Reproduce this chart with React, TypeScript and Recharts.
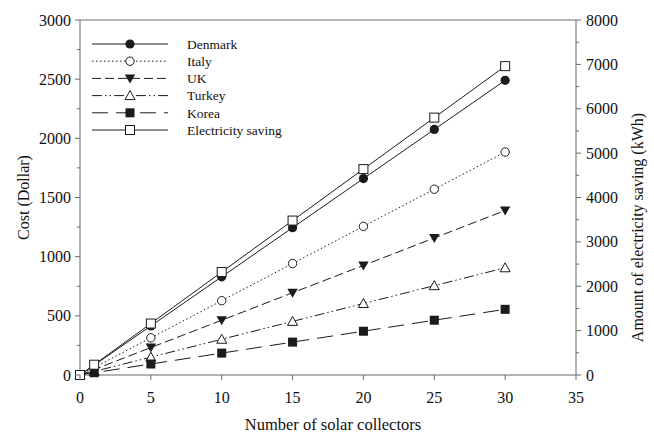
import React from 'react';
import { LineChart, Line, XAxis, YAxis, Legend, ReferenceLine, Label } from 'recharts';

// number of collectors installed
const collectors = [0, 1, 5, 10, 15, 20, 25, 30];

// yearly cost saved per country (Dollar)
const denmarkCost = [0, 83, 415, 830, 1245, 1660, 2075, 2490];
const italyCost = [0, 63, 314, 628, 942, 1256, 1570, 1884];
const ukCost = [0, 46, 232, 463, 695, 926, 1158, 1390];
const turkeyCost = [0, 30, 151, 302, 453, 604, 755, 906];
const koreaCost = [0, 19, 93, 185, 278, 370, 463, 555];

// electricity saved (kWh), right axis
const electricitySaving = [0, 232, 1160, 2320, 3480, 4640, 5800, 6960];

const xTicks = [0, 5, 10, 15, 20, 25, 30, 35];
const costTicks = [0, 250, 500, 750, 1000, 1250, 1500, 1750, 2000, 2250, 2500, 2750, 3000];
const savingTicks = [0, 500, 1000, 1500, 2000, 2500, 3000, 3500, 4000, 4500, 5000, 5500, 6000, 6500, 7000, 7500, 8000];

const data = collectors.map((n, i) => ({
  n,
  denmark: denmarkCost[i],
  italy: italyCost[i],
  uk: ukCost[i],
  turkey: turkeyCost[i],
  korea: koreaCost[i],
  saving: electricitySaving[i],
}));

const FONT = '"Liberation Serif", "Times New Roman", serif';
const INK = '#1b1b1b';
const AXIS = '#6a6a6a';

type Kind = 'dot' | 'ring' | 'down' | 'up' | 'square' | 'box';

const Marker = ({ kind, cx, cy }: { kind: Kind; cx: number; cy: number }) => {
  switch (kind) {
    case 'dot':
      return <circle cx={cx} cy={cy} r={4.6} fill={INK} />;
    case 'ring':
      return <circle cx={cx} cy={cy} r={4.2} fill="#fff" stroke={INK} strokeWidth={1} />;
    case 'down':
      return <polygon points={`${cx - 5.2},${cy - 4} ${cx + 5.2},${cy - 4} ${cx},${cy + 5}`} fill={INK} />;
    case 'up':
      return (
        <polygon
          points={`${cx - 5},${cy + 4} ${cx + 5},${cy + 4} ${cx},${cy - 5}`}
          fill="#fff"
          stroke={INK}
          strokeWidth={1}
        />
      );
    case 'square':
      return <rect x={cx - 4.5} y={cy - 4.5} width={9} height={9} fill={INK} />;
    default:
      return <rect x={cx - 4.5} y={cy - 4.5} width={9} height={9} fill="#fff" stroke={INK} strokeWidth={1} />;
  }
};

const series: { key: string; name: string; dash?: string; marker: Kind; axis: string }[] = [
  { key: 'denmark', name: 'Denmark', marker: 'dot', axis: 'cost' },
  { key: 'italy', name: 'Italy', dash: '1.5 2.5', marker: 'ring', axis: 'cost' },
  { key: 'uk', name: 'UK', dash: '9 4', marker: 'down', axis: 'cost' },
  { key: 'turkey', name: 'Turkey', dash: '10 3 1.5 3 1.5 3', marker: 'up', axis: 'cost' },
  { key: 'korea', name: 'Korea', dash: '16 8', marker: 'square', axis: 'cost' },
  { key: 'saving', name: 'Electricity saving', marker: 'box', axis: 'saving' },
];

const textStyle = { fontFamily: FONT, fontSize: 16, fill: '#111' };

const LeftTick = (props: any) => {
  const { x, y, payload } = props;
  const major = payload.value % 500 === 0;
  return (
    <g>
      <line x1={x} x2={x - (major ? 5 : 3)} y1={y} y2={y} stroke={AXIS} />
      {major && (
        <text x={x - 9} y={y} dy="0.35em" textAnchor="end" {...textStyle}>
          {payload.value}
        </text>
      )}
    </g>
  );
};

const RightTick = (props: any) => {
  const { x, y, payload } = props;
  const major = payload.value % 1000 === 0;
  return (
    <g>
      <line x1={x} x2={x + (major ? 5 : 3)} y1={y} y2={y} stroke={AXIS} />
      {major && (
        <text x={x + 10} y={y} dy="0.35em" textAnchor="start" {...textStyle}>
          {payload.value}
        </text>
      )}
    </g>
  );
};

const BottomTick = (props: any) => {
  const { x, y, payload } = props;
  return (
    <g>
      <line x1={x} x2={x} y1={y} y2={y + 5} stroke={AXIS} />
      <text x={x} y={y + 22} dy="0.35em" textAnchor="middle" {...textStyle}>
        {payload.value}
      </text>
    </g>
  );
};

const renderLegend = () => (
  <svg width={220} height={112}>
    {series.map((s, i) => {
      const y = 9 + i * 17.2;
      return (
        <g key={s.key}>
          <line x1={4} x2={80} y1={y} y2={y} stroke={INK} strokeDasharray={s.dash} />
          <Marker kind={s.marker} cx={42} cy={y} />
          <text x={99} y={y} dy="0.35em" fontFamily={FONT} fontSize={13.5} fill="#111">
            {s.name}
          </text>
        </g>
      );
    })}
  </svg>
);

const BottomTitle = (props: any) => {
  const { viewBox } = props;
  const cx = viewBox.x + viewBox.width / 2 + 5;
  const cy = viewBox.y + viewBox.height - 11;
  return (
    <text x={cx} y={cy} dy="0.35em" textAnchor="middle" {...textStyle} fontSize={16.5}>
      Number of solar collectors
    </text>
  );
};

const RightTitle = (props: any) => {
  const { viewBox } = props;
  const cx = viewBox.x + viewBox.width - 17;
  const cy = viewBox.y + viewBox.height / 2 + 30;
  return (
    <text x={cx} y={cy} dy="0.35em" textAnchor="middle" transform={`rotate(-90, ${cx}, ${cy})`} {...textStyle}>
      Amount of electricity saving (kWh)
    </text>
  );
};

export default function App() {
  return (
    <div style={{ position: 'absolute', left: 0, top: 0, background: '#fff' }}>
      <LineChart width={654} height={435} data={data} margin={{ top: 20, right: 0, left: 0, bottom: 0 }}>
        <XAxis
          dataKey="n"
          type="number"
          domain={[0, 35]}
          ticks={xTicks}
          height={60}
          stroke={AXIS}
          tickLine={false}
          tickSize={0}
          tickMargin={0}
          tick={<BottomTick />}
        >
          <Label content={<BottomTitle />} />
        </XAxis>
        <YAxis
          yAxisId="cost"
          domain={[0, 3000]}
          ticks={costTicks}
          width={80}
          stroke={AXIS}
          tickLine={false}
          tickSize={0}
          tickMargin={0}
          tick={<LeftTick />}
          interval={0}
        >
          <Label
            value="Cost (Dollar)"
            angle={-90}
            position="insideLeft"
            offset={23}
            style={{ ...textStyle, textAnchor: 'middle' }}
          />
        </YAxis>
        <YAxis
          yAxisId="saving"
          orientation="right"
          domain={[0, 8000]}
          ticks={savingTicks}
          width={78}
          stroke={AXIS}
          tickLine={false}
          tickSize={0}
          tickMargin={0}
          tick={<RightTick />}
          interval={0}
        >
          <Label content={<RightTitle />} />
        </YAxis>
        <ReferenceLine yAxisId="cost" y={3000} stroke={AXIS} />
        <Legend
          layout="vertical"
          align="center"
          verticalAlign="middle"
          content={renderLegend}
          wrapperStyle={{ left: 88, top: 35, width: 220, height: 112 }}
        />
        {series.map((s) => (
          <Line
            key={s.key}
            dataKey={s.key}
            name={s.name}
            yAxisId={s.axis}
            type="linear"
            stroke={INK}
            strokeWidth={1}
            strokeDasharray={s.dash}
            dot={(p: any) => <Marker key={`${s.key}-${p.index}`} kind={s.marker} cx={p.cx} cy={p.cy} />}
            activeDot={false}
            isAnimationActive={false}
          />
        ))}
      </LineChart>
    </div>
  );
}
